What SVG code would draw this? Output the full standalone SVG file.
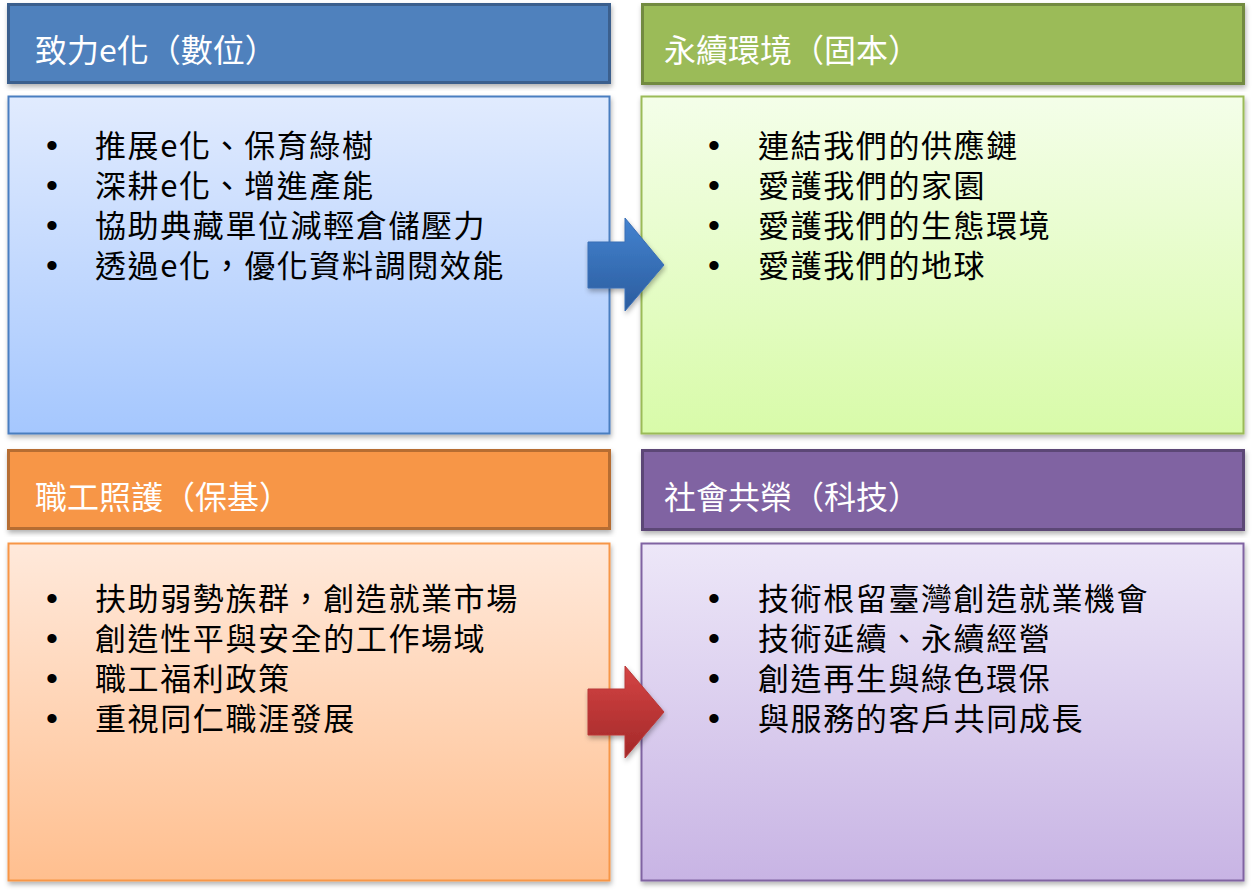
<svg xmlns="http://www.w3.org/2000/svg" width="1252" height="892" viewBox="0 0 1252 892">
<defs>
<style>
text{font-family:"Noto Sans CJK TC","Noto Sans CJK SC",sans-serif}
.hd{font-size:32px;fill:#ffffff}
.bd{font-size:31px;fill:#000000;letter-spacing:1.6px}
.bl{font-family:"Liberation Sans",Arial,sans-serif;font-size:34px;fill:#000000}
</style>
<filter id="sh" x="-5%" y="-5%" width="110%" height="115%">
<feDropShadow dx="1" dy="3" stdDeviation="2.5" flood-color="#000" flood-opacity="0.3"/>
</filter>
<linearGradient id="gB" x1="0" y1="0" x2="0" y2="1"><stop offset="0" stop-color="#E1EBFE"/><stop offset="1" stop-color="#A5C7FE"/></linearGradient>
<linearGradient id="gG" x1="0" y1="0" x2="0" y2="1"><stop offset="0" stop-color="#F4FEE9"/><stop offset="1" stop-color="#D8FBA9"/></linearGradient>
<linearGradient id="gO" x1="0" y1="0" x2="0" y2="1"><stop offset="0" stop-color="#FFE9DB"/><stop offset="1" stop-color="#FFBF8F"/></linearGradient>
<linearGradient id="gP" x1="0" y1="0" x2="0" y2="1"><stop offset="0" stop-color="#EDE7F8"/><stop offset="1" stop-color="#C8B4E4"/></linearGradient>
<linearGradient id="aB" x1="0" y1="0" x2="0" y2="1"><stop offset="0" stop-color="#4383D0"/><stop offset="1" stop-color="#2B5C9E"/></linearGradient>
<linearGradient id="aR" x1="0" y1="0" x2="0" y2="1"><stop offset="0" stop-color="#D44444"/><stop offset="1" stop-color="#A32828"/></linearGradient>
</defs>

<g id="node-digital">
<rect x="8.5" y="4.5" width="601" height="78" fill="#4F81BD" stroke="#3A5F8D" stroke-width="3" filter="url(#sh)"/>
<text class="hd" x="35" y="62">致力e化（數位）</text>
<rect x="8.5" y="96.5" width="601" height="337" fill="url(#gB)" stroke="#4A7EC0" stroke-width="2" filter="url(#sh)"/>
<text class="bl"><tspan x="46" y="157">•</tspan><tspan x="46" y="197">•</tspan><tspan x="46" y="237">•</tspan><tspan x="46" y="277">•</tspan></text>
<text class="bd"><tspan x="95" y="157">推展e化、保育綠樹</tspan><tspan x="95" y="197">深耕e化、增進產能</tspan><tspan x="95" y="237">協助典藏單位減輕倉儲壓力</tspan><tspan x="95" y="277">透過e化，優化資料調閱效能</tspan></text>
</g>

<g id="node-sustain">
<rect x="642.5" y="4.5" width="601" height="79" fill="#9BBB59" stroke="#728A40" stroke-width="3" filter="url(#sh)"/>
<text class="hd" x="664" y="62">永續環境（固本）</text>
<rect x="641.5" y="96.5" width="602" height="337" fill="url(#gG)" stroke="#9BBB59" stroke-width="2" filter="url(#sh)"/>
<text class="bl"><tspan x="708" y="157">•</tspan><tspan x="708" y="197">•</tspan><tspan x="708" y="237">•</tspan><tspan x="708" y="277">•</tspan></text>
<text class="bd"><tspan x="758" y="157">連結我們的供應鏈</tspan><tspan x="758" y="197">愛護我們的家園</tspan><tspan x="758" y="237">愛護我們的生態環境</tspan><tspan x="758" y="277">愛護我們的地球</tspan></text>
</g>

<g id="node-staff">
<rect x="8.5" y="450.5" width="601" height="78" fill="#F79646" stroke="#B66D31" stroke-width="3" filter="url(#sh)"/>
<text class="hd" x="35" y="509">職工照護（保基）</text>
<rect x="8.5" y="543.5" width="601" height="337" fill="url(#gO)" stroke="#F79646" stroke-width="2" filter="url(#sh)"/>
<text class="bl"><tspan x="46" y="610">•</tspan><tspan x="46" y="650">•</tspan><tspan x="46" y="690">•</tspan><tspan x="46" y="730">•</tspan></text>
<text class="bd"><tspan x="95" y="610">扶助弱勢族群，創造就業市場</tspan><tspan x="95" y="650">創造性平與安全的工作場域</tspan><tspan x="95" y="690">職工福利政策</tspan><tspan x="95" y="730">重視同仁職涯發展</tspan></text>
</g>

<g id="node-society">
<rect x="642.5" y="450.5" width="601" height="79" fill="#8064A2" stroke="#5C4776" stroke-width="3" filter="url(#sh)"/>
<text class="hd" x="664" y="509">社會共榮（科技）</text>
<rect x="641.5" y="543.5" width="602" height="337" fill="url(#gP)" stroke="#8064A2" stroke-width="2" filter="url(#sh)"/>
<text class="bl"><tspan x="708" y="610">•</tspan><tspan x="708" y="650">•</tspan><tspan x="708" y="690">•</tspan><tspan x="708" y="730">•</tspan></text>
<text class="bd"><tspan x="758" y="610">技術根留臺灣創造就業機會</tspan><tspan x="758" y="650">技術延續、永續經營</tspan><tspan x="758" y="690">創造再生與綠色環保</tspan><tspan x="758" y="730">與服務的客戶共同成長</tspan></text>
</g>

<g id="connectors">
<polygon points="588,242 625,242 625,218 664,265 625,311 625,288 588,288" fill="url(#aB)" stroke="#3A6FB5" stroke-width="1" filter="url(#sh)"/>
<polygon points="588,689 625,689 625,666 664,712 625,758 625,735 588,735" fill="url(#aR)" stroke="#B83838" stroke-width="1" filter="url(#sh)"/>
</g>
</svg>
